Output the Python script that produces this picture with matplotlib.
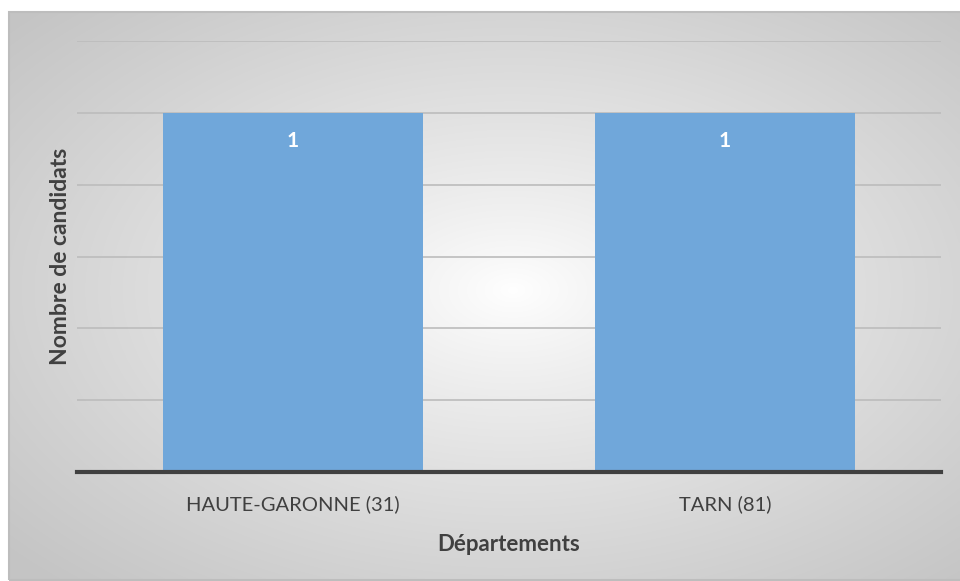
import numpy as np
import matplotlib.pyplot as plt
from matplotlib.patches import Rectangle

departements = ["HAUTE-GARONNE (31)", "TARN (81)"]
candidats = [1, 1]
y_ticks = [0, 0.2, 0.4, 0.6, 0.8, 1.0, 1.2]

plt.rcParams['font.family'] = ['Lato', 'DejaVu Sans']
W, H = 960, 581
fig = plt.figure(figsize=(W / 100, H / 100), dpi=100)

# radial grey background inside the chart frame
bg = fig.add_axes([9 / W, 1 / H, (W - 9) / W, (H - 13) / H])
bg.set_axis_off()
gx, gy = np.meshgrid(np.linspace(-1, 1, 400), np.linspace(-1, 1, 240))
r = np.sqrt((gx - 0.06) ** 2 + (gy + 0.02) ** 2) / np.sqrt(2)
shade = 1.0 - 0.23 * np.clip(r, 0, 1) ** 0.85
bg.imshow(np.dstack([shade] * 3), extent=[0, 1, 0, 1], aspect='auto', interpolation='bilinear')
bg.add_patch(Rectangle((0, 0), 1.2, 1, fill=False, edgecolor='#bdbdbd', linewidth=1.5,
                       transform=bg.transAxes, clip_on=False))
bg.set_xlim(0, 1)
bg.set_ylim(0, 1)

ax = fig.add_axes([77 / W, 109 / H, (941 - 77) / W, (472 - 41) / H])
ax.patch.set_alpha(0)
x = np.arange(len(departements))
bars = ax.bar(x, candidats, width=0.6, color='#70a7da', zorder=3)
for b, v in zip(bars, candidats):
    ax.text(b.get_x() + b.get_width() / 2, v - 0.078, str(v), ha='center', va='center',
            color='white', fontweight='bold', fontsize=15, zorder=4)

ax.set_xlim(-0.5, 1.5)
ax.set_ylim(0, 1.2)
ax.set_yticks(y_ticks)
ax.yaxis.grid(True, color='#bcbcbc', linewidth=1.2, zorder=1)
ax.tick_params(axis='y', left=False, labelleft=False)
ax.tick_params(axis='x', bottom=False, labelsize=14.5, labelcolor='#404040', pad=13)
ax.set_xticks(x)
ax.set_xticklabels(departements)
for s in ['top', 'right', 'left']:
    ax.spines[s].set_visible(False)
ax.spines['bottom'].set_color('#404040')
ax.spines['bottom'].set_linewidth(3)
ax.spines['bottom'].set_zorder(5)

ax.set_xlabel("Départements", fontsize=16, fontweight='bold', color='#404040', labelpad=15)
ax.set_ylabel("Nombre de candidats", fontsize=16.5, fontweight='bold', color='#404040', labelpad=4)

fig.savefig("out.png", dpi=100)
